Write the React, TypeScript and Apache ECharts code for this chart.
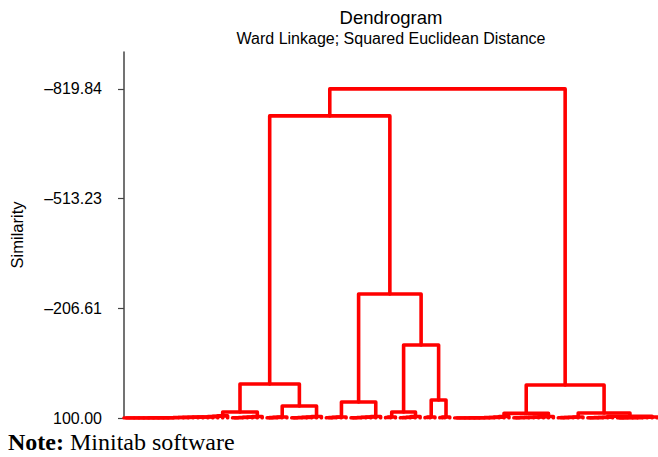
import React, { useEffect, useRef } from "react";
import * as echarts from "echarts";

// y-axis tick values (similarity)
const yTickValues = [-819.84, -513.23, -206.61, 100.0];

// Bottom-level groups: leaves in each group join left to right (chained),
// listed as the similarity of each successive join.
const groupJoins: number[][] = [
  [99.9, 99.9, 99.9, 99.8, 99.8, 99.8, 99.7, 99.7, 99.6, 99.6, 99.5, 98.8, 98.5, 98.2, 97.9, 97.6, 97.3, 97.0, 96.2, 95.3, 94.0],
  [99.6, 99.2, 98.7, 98.0, 97.0, 96.0],
  [99.6, 99.0, 98.2, 97.0],
  [99.7, 99.3, 98.8, 98.2, 97.4, 96.0],
  [99.5, 98.9, 98.0, 97.0],
  [99.7, 99.3, 98.8, 98.0, 97.2, 96.0],
  [98.8, 97.0],
  [99.4, 98.8, 97.8, 96.0],
  [98.6, 97.0],
  [98.9, 97.0],
  [99.9, 99.9, 99.8, 99.8, 99.7, 99.6, 99.4, 99.0, 98.4, 97.5, 96.0],
  [99.6, 99.2, 98.8, 98.4, 97.9, 97.3, 96.7, 96.0],
  [99.5, 99.0, 98.4, 97.7, 97.0],
  [99.6, 99.3, 98.9, 98.5, 98.0],
  [99.8, 99.7, 99.5, 99.2, 98.9, 98.5, 97.9, 97.0],
];

// Upper merges (g = group, m = earlier merge)
const mergeLeft = ["g0", "g2", "m0", "g4", "g6", "g8", "m4", "m3", "m2", "g10", "g13", "g12", "m9", "m8"];
const mergeRight = ["g1", "g3", "m1", "g5", "g7", "g9", "m5", "m6", "m7", "g11", "g14", "m10", "m11", "m12"];
const mergeSimilarity = [83.2, 66.5, 4.9, 55.3, 83.2, 49.7, -104.1, -246.7, -744.4, 87.0, 95.0, 86.0, 7.7, -819.84];

type Node = { x: number; y: number };

function buildSegments(): { segs: number[][][]; leafCount: number } {
  const segs: number[][][] = [];
  const nodes: Record<string, Node> = {};
  let leaf = 0;
  groupJoins.forEach((joins, gi) => {
    let cur: Node = { x: leaf, y: 100 };
    leaf++;
    joins.forEach((s) => {
      const nx = leaf;
      leaf++;
      segs.push([[cur.x, cur.y], [cur.x, s], [nx, s], [nx, 100]]);
      cur = { x: (cur.x + nx) / 2, y: s };
    });
    nodes["g" + gi] = cur;
  });
  mergeLeft.forEach((l, i) => {
    const a = nodes[l];
    const b = nodes[mergeRight[i]];
    const s = mergeSimilarity[i];
    segs.push([[a.x, a.y], [a.x, s], [b.x, s], [b.x, b.y]]);
    nodes["m" + i] = { x: (a.x + b.x) / 2, y: s };
  });
  return { segs, leafCount: leaf };
}

const fmt = (v: number) => (v < 0 ? "\u2013" + Math.abs(v).toFixed(2) : v.toFixed(2));

export default function App() {
  const ref = useRef<HTMLDivElement>(null);
  useEffect(() => {
    if (!ref.current) return;
    const chart = echarts.init(ref.current, undefined, { renderer: "svg" });
    const { segs, leafCount } = buildSegments();
    const sans = "'Liberation Sans', Arial, Helvetica, sans-serif";
    const serif = "'Liberation Serif', 'Times New Roman', serif";
    chart.setOption({
      animation: false,
      backgroundColor: "#ffffff",
      title: {
        text: "Dendrogram",
        subtext: "Ward Linkage; Squared Euclidean Distance",
        left: 386,
        top: 3,
        textAlign: "center",
        itemGap: 3,
        textStyle: { fontFamily: sans, fontSize: 18.5, fontWeight: "normal", color: "#000" },
        subtextStyle: { fontFamily: sans, fontSize: 16, color: "#000" },
      },
      grid: { left: 115, right: 0, top: 52, bottom: 39, containLabel: false },
      xAxis: {
        type: "value",
        min: -0.4,
        max: leafCount - 0.8,
        show: false,
      },
      yAxis: {
        type: "value",
        inverse: true,
        min: -923,
        max: 100,
        name: "Similarity",
        nameLocation: "middle",
        nameRotate: 90,
        nameGap: 97,
        nameTextStyle: { fontFamily: sans, fontSize: 16.5, color: "#000" },
        axisLine: { show: true, lineStyle: { color: "#444", width: 1.5 } },
        axisTick: { show: true, length: 6, customValues: yTickValues, lineStyle: { color: "#444", width: 1.2 } },
        axisLabel: {
          customValues: yTickValues,
          formatter: (v: number) => fmt(v),
          margin: 20,
          fontFamily: sans,
          fontSize: 16,
          color: "#000",
        },
        splitLine: { show: false },
      },
      series: [
        {
          type: "lines",
          coordinateSystem: "cartesian2d",
          polyline: true,
          silent: true,
          data: segs.map((c) => ({ coords: c })),
          lineStyle: { color: "#ff0000", width: 3.6, opacity: 1, curveness: 0, cap: "round", join: "round" },
        },
      ],
      graphic: [
        {
          type: "text",
          left: 8,
          top: 430,
          style: {
            text: "{b|Note:} Minitab software",
            fontFamily: serif,
            fontSize: 24,
            fill: "#000",
            rich: {
              b: { fontWeight: "bold", fontSize: 24, fontFamily: serif },
            },
          },
        },
      ],
    });
    return () => chart.dispose();
  }, []);
  return <div ref={ref} style={{ position: "fixed", left: 0, top: 0, width: 658, height: 457 }} />;
}
